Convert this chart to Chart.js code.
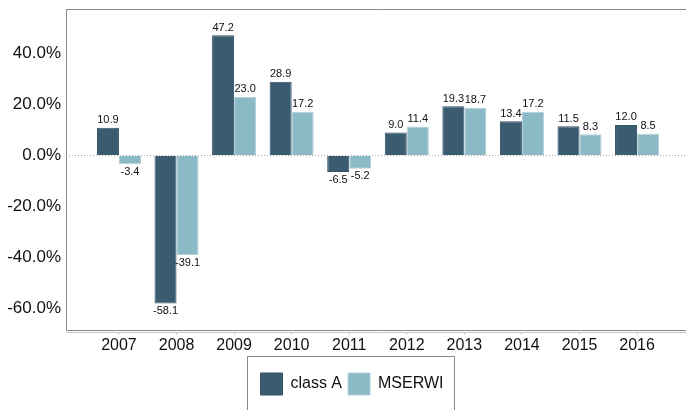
<!DOCTYPE html>
<html>
<head>
<meta charset="utf-8">
<script src="https://cdn.jsdelivr.net/npm/chart.js@4"></script>
<style>
  html, body { margin: 0; padding: 0; background: #fff; }
  #wrap { width: 686px; height: 410px; }
</style>
</head>
<body>
<div id="wrap"><canvas id="chart" width="686" height="410"></canvas></div>
<script>
// --- data --- //
const years = [2007, 2008, 2009, 2010, 2011, 2012, 2013, 2014, 2015, 2016];
const classA = [10.9, -58.1, 47.2, 28.9, -6.5, 9.0, 19.3, 13.4, 11.5, 12.0];
const mserwi = [-3.4, -39.1, 23.0, 17.2, -5.2, 11.4, 18.7, 17.2, 8.3, 8.5];
const yTicks = [-60, -40, -20, 0, 20, 40];
const seriesNames = ['class A', 'MSERWI'];

const FONT = 'Arial, "Liberation Sans", sans-serif';

// frame around plot area
const framePlugin = {
    id: 'frame',
    beforeDatasetsDraw(chart) {
        const { ctx, chartArea: a } = chart;
        ctx.save();
        ctx.strokeStyle = '#8a8a8a';
        ctx.lineWidth = 1;
        ctx.beginPath();
        ctx.moveTo(a.right, a.top + 0.5);
        ctx.lineTo(a.left + 0.5, a.top + 0.5);
        ctx.lineTo(a.left + 0.5, a.bottom - 1.5);
        ctx.lineTo(a.right, a.bottom - 1.5);
        ctx.stroke();
        ctx.restore();
    }
};

// value labels on bars
const valueLabels = {
    id: 'valueLabels',
    afterDatasetsDraw(chart) {
        const { ctx } = chart;
        ctx.save();
        ctx.font = '11px ' + FONT;
        ctx.fillStyle = '#111';
        ctx.textAlign = 'center';
        chart.data.datasets.forEach((ds, di) => {
            chart.getDatasetMeta(di).data.forEach((bar, i) => {
                const v = ds.data[i].y;
                if (v >= 0) {
                    ctx.textBaseline = 'bottom';
                    ctx.fillText(v.toFixed(1), bar.x, bar.y - 2);
                } else {
                    ctx.textBaseline = 'top';
                    ctx.fillText(v.toFixed(1), bar.x, bar.y + 2);
                }
            });
        });
        ctx.restore();
    }
};

// legend sits a little right of the canvas centre, inside an open box
const legendBox = {
    id: 'legendBox',
    afterUpdate(chart) {
        const lg = chart.legend;
        if (!lg) return;
        lg.left += 18; // centred items move by half of that
        (lg.legendHitBoxes || []).forEach(h => { h.left += 9; });
    },
    afterDraw(chart) {
        const lg = chart.legend;
        if (!lg || !lg.legendHitBoxes || !lg.legendHitBoxes.length) return;
        const hb = lg.legendHitBoxes;
        const last = hb[hb.length - 1];
        const left = Math.round(hb[0].left - 13) + 0.5;
        const right = Math.round(last.left + last.width + 10) + 0.5;
        const top = Math.round(hb[0].top - 17) + 0.5;
        const { ctx } = chart;
        ctx.save();
        ctx.strokeStyle = '#8a8a8a';
        ctx.lineWidth = 1;
        ctx.beginPath();
        ctx.moveTo(left, chart.height);
        ctx.lineTo(left, top);
        ctx.lineTo(right, top);
        ctx.lineTo(right, chart.height);
        ctx.stroke();
        ctx.restore();
    }
};

const ctx = document.getElementById('chart').getContext('2d');
new Chart(ctx, {
    type: 'bar',
    data: {
        datasets: [
            {
                label: seriesNames[0],
                data: years.map((yr, i) => ({ x: yr, y: classA[i] })),
                backgroundColor: '#3b5b71',
                borderColor: '#33526a',
                borderWidth: 1
            },
            {
                label: seriesNames[1],
                data: years.map((yr, i) => ({ x: yr, y: mserwi[i] })),
                backgroundColor: '#8bb9c6',
                borderColor: '#b3d0d9',
                borderWidth: 1
            }
        ]
    },
    options: {
        responsive: false,
        animation: false,
        layout: { padding: { left: 0, top: 9, right: 0, bottom: 5 } },
        datasets: { bar: { categoryPercentage: 0.765, barPercentage: 1 } },
        scales: {
            x: {
                type: 'linear',
                offset: false,
                min: 2006.08,
                max: 2016.85,
                afterBuildTicks: s => { s.ticks = years.map(v => ({ value: v })); },
                afterFit: s => { s.height = 35; s.paddingLeft = 0; s.paddingRight = 0; },
                ticks: {
                    autoSkip: false,
                    maxRotation: 0,
                    padding: 1,
                    color: '#111',
                    font: { family: FONT, size: 16 },
                    callback: v => String(v)
                },
                grid: { offset: false, drawOnChartArea: false, tickLength: 3, color: '#c8c8c8' },
                border: { display: true, color: '#c8c8c8' }
            },
            y: {
                min: -69.3,
                max: 57.5,
                afterBuildTicks: s => { s.ticks = yTicks.map(v => ({ value: v })); },
                afterFit: s => { s.width = 66; s.paddingTop = 0; s.paddingBottom = 0; },
                ticks: {
                    padding: 5,
                    color: '#111',
                    font: { family: FONT, size: 17 },
                    callback: v => v.toFixed(1) + '%'
                },
                grid: {
                    drawTicks: false,
                    lineWidth: 1,
                    color: c => (c.tick && c.tick.value === 0 ? '#aaaaaa' : 'rgba(0,0,0,0)')
                },
                border: { display: false, dash: [1, 2] }
            }
        },
        plugins: {
            legend: {
                position: 'bottom',
                labels: {
                    boxWidth: 22,
                    boxHeight: 22,
                    padding: 6,
                    color: '#111',
                    font: { family: FONT, size: 16 }
                }
            },
            tooltip: { enabled: false }
        }
    },
    plugins: [framePlugin, valueLabels, legendBox]
});
</script>
</body>
</html>
